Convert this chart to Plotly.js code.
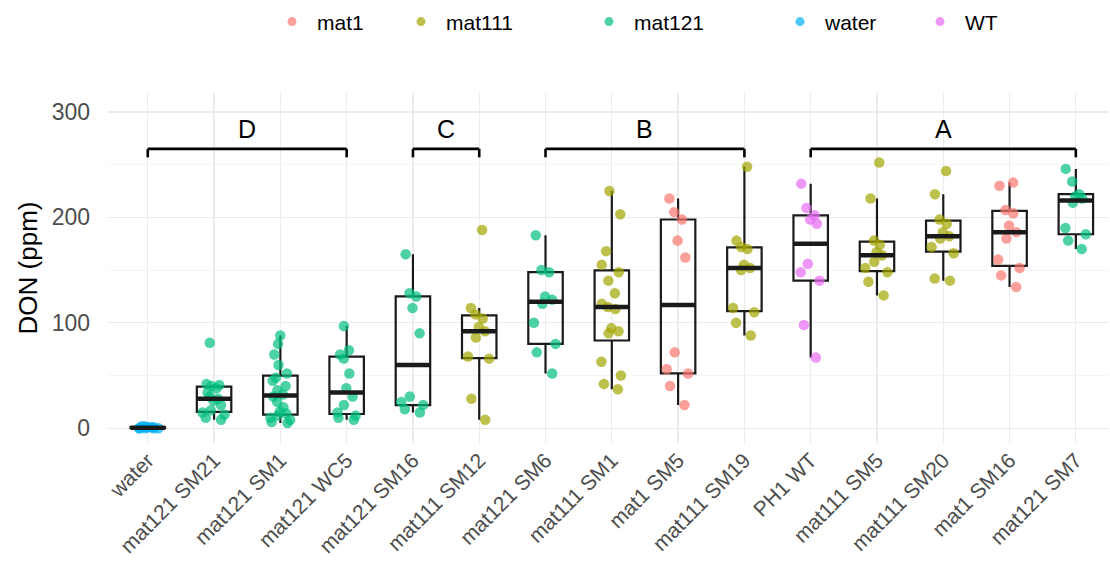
<!DOCTYPE html>
<html>
<head>
<meta charset="utf-8">
<script src="https://cdn.plot.ly/plotly-3.0.1.min.js"></script>
<style>html,body{margin:0;padding:0;background:#fff;}#chart{width:1110px;height:588px;}</style>
</head>
<body>
<div id="chart"></div>
<script>
// Categories (x order) and the genotype each belongs to
const categories = ["water", "mat121 SM21", "mat121 SM1", "mat121 WC5", "mat121 SM16", "mat111 SM12",
  "mat121 SM6", "mat111 SM1", "mat1 SM5", "mat111 SM19", "PH1 WT", "mat111 SM5", "mat111 SM20",
  "mat1 SM16", "mat121 SM7"];
const categoryGenotype = ["water", "mat121", "mat121", "mat121", "mat121", "mat111",
  "mat121", "mat111", "mat1", "mat111", "WT", "mat111", "mat111", "mat1", "mat121"];

// Legend genotypes and colours
const genotypes = ["mat1", "mat111", "mat121", "water", "WT"];
const genotypeColors = ["#F8766D", "#A3A500", "#00BF7D", "#00B0F6", "#E76BF3"];

// DON (ppm) values per category
const valsWater = [0, 0, 1, 0, 2, 1, 0, 1, 0, 2];
const valsMat121SM21 = [8, 10, 13, 15, 17, 22, 26, 28, 30, 34, 38, 40, 41, 42, 81];
const valsMat121SM1 = [5, 6, 8, 10, 12, 14, 16, 20, 25, 30, 32, 36, 40, 45, 48, 52, 60, 70, 80, 88];
const valsMat121WC5 = [8, 10, 12, 15, 22, 30, 38, 52, 66, 70, 74, 97];
const valsMat121SM16 = [15, 18, 22, 25, 30, 90, 114, 125, 128, 165];
const valsMat111SM12 = [8, 28, 66, 68, 86, 92, 96, 104, 108, 114, 188];
const valsMat121SM6 = [52, 72, 80, 100, 118, 122, 125, 148, 150, 183];
const valsMat111SM1 = [37, 42, 50, 63, 90, 92, 95, 113, 115, 118, 128, 140, 148, 155, 168, 203, 225];
const valsMat1SM5 = [22, 40, 52, 56, 72, 162, 178, 198, 205, 218];
const valsMat111SM19 = [88, 100, 110, 114, 150, 152, 155, 170, 172, 178, 248];
const valsPH1WT = [67, 98, 140, 148, 156, 194, 198, 202, 209, 232];
const valsMat111SM5 = [126, 139, 148, 152, 158, 164, 167, 174, 178, 218, 252];
const valsMat111SM20 = [140, 142, 166, 172, 180, 182, 186, 194, 198, 222, 244];
const valsMat1SM16 = [134, 145, 152, 160, 180, 186, 192, 204, 207, 230, 233];
const valsMat121SM7 = [170, 178, 184, 190, 214, 218, 220, 222, 234, 246];

const categoryValues = [valsWater, valsMat121SM21, valsMat121SM1, valsMat121WC5, valsMat121SM16,
  valsMat111SM12, valsMat121SM6, valsMat111SM1, valsMat1SM5, valsMat111SM19, valsPH1WT,
  valsMat111SM5, valsMat111SM20, valsMat1SM16, valsMat121SM7];

// Significance groups (brackets)
const groupLetters = ["D", "C", "B", "A"];
const groupStart = ["water", "mat121 SM16", "mat121 SM6", "PH1 WT"];
const groupEnd = ["mat121 WC5", "mat111 SM12", "mat111 SM19", "mat121 SM7"];
const bracketLevel = 265;
const bracketTickEnd = 257;
const letterLevel = 284;

const colorOf = g => genotypeColors[genotypes.indexOf(g)];
const FONT = "Liberation Sans, Arial, sans-serif";
const BOXW = 0.52;

function median(arr) {
  const s = arr.slice().sort((a, b) => a - b);
  const n = s.length, m = Math.floor(n / 2);
  return n % 2 ? s[m] : (s[m - 1] + s[m]) / 2;
}

const traces = [];
const shapes = [];
const annotations = [];
categories.forEach((cat, i) => {
  const vals = categoryValues[i];
  traces.push({
    type: "box",
    x: vals.map(() => cat),
    y: vals,
    name: cat,
    showlegend: false,
    boxpoints: "all",
    jitter: 0.8,
    pointpos: 0,
    width: BOXW,
    whiskerwidth: 0,
    fillcolor: "rgba(0,0,0,0)",
    line: {color: "#1a1a1a", width: 2.2},
    marker: {color: colorOf(categoryGenotype[i]), size: 10.5, opacity: 0.7, line: {width: 0}},
    hoverinfo: "y"
  });
  // thick median bar (ggplot fatten)
  const md = median(vals);
  shapes.push({type: "line", xref: "x", yref: "y", x0: i - BOXW / 2, x1: i + BOXW / 2, y0: md, y1: md,
    line: {color: "#1a1a1a", width: 4.5}, layer: "above"});
});

// Legend-only traces, each in its own legend so the spacing can follow the reference
const legendNames = ["legend", "legend2", "legend3", "legend4", "legend5"];
genotypes.forEach((g, k) => {
  traces.push({
    type: "scatter", mode: "markers", x: [null], y: [null], name: g,
    legend: legendNames[k],
    marker: {color: genotypeColors[k], size: 9, opacity: 0.7},
    showlegend: true
  });
});

groupLetters.forEach((L, k) => {
  const a = categories.indexOf(groupStart[k]);
  const b = categories.indexOf(groupEnd[k]);
  const line = {color: "#000", width: 2.6};
  shapes.push({type: "line", xref: "x", yref: "y", x0: a, x1: b, y0: bracketLevel, y1: bracketLevel, line});
  shapes.push({type: "line", xref: "x", yref: "y", x0: a, x1: a, y0: bracketLevel, y1: bracketTickEnd, line});
  shapes.push({type: "line", xref: "x", yref: "y", x0: b, x1: b, y0: bracketLevel, y1: bracketTickEnd, line});
  annotations.push({xref: "x", yref: "y", x: (a + b) / 2, y: letterLevel, text: L, showarrow: false,
    font: {family: FONT, size: 25, color: "#000"}, yanchor: "middle", xanchor: "center"});
});

const ML = 108, PW = 1001;
const layout = {
  width: 1110, height: 588,
  margin: {l: ML, r: 1, t: 93, b: 145},
  paper_bgcolor: "#fff", plot_bgcolor: "#fff",
  font: {family: FONT, color: "#4d4d4d"},
  showlegend: true,
  xaxis: {type: "category", categoryorder: "array", categoryarray: categories,
    range: [-0.6, 14.5], tickangle: -45, showgrid: true, gridcolor: "#ebebeb", gridwidth: 1.3,
    zeroline: false, showline: false, ticks: "", tickfont: {family: FONT, size: 21, color: "#4d4d4d"}},
  yaxis: {range: [-14, 318], tickvals: [0, 100, 200, 300], showgrid: true, gridcolor: "#ebebeb",
    gridwidth: 1.3, zeroline: false, showline: false, ticks: "", ticklabelstandoff: 17,
    tickfont: {family: FONT, size: 23, color: "#4d4d4d"},
    minor: {dtick: 50, showgrid: true, gridcolor: "#f2f2f2", gridwidth: 0.8},
    title: {text: "DON (ppm)", font: {family: FONT, size: 26, color: "#000"}, standoff: 6}},
  shapes: shapes,
  annotations: annotations,
  boxmode: "overlay"
};
// legend dot pixel positions (layout only)
const legendDotPx = [292, 421, 609, 800, 940];
legendNames.forEach((ln, k) => {
  layout[ln] = {orientation: "h", x: (legendDotPx[k] - 25 - ML) / PW, xanchor: "left",
    y: 1.203, yanchor: "middle", itemwidth: 40,
    font: {family: FONT, size: 21, color: "#000"}, bgcolor: "rgba(0,0,0,0)"};
});

Plotly.newPlot("chart", traces, layout, {displayModeBar: false, staticPlot: true});
</script>
</body>
</html>
